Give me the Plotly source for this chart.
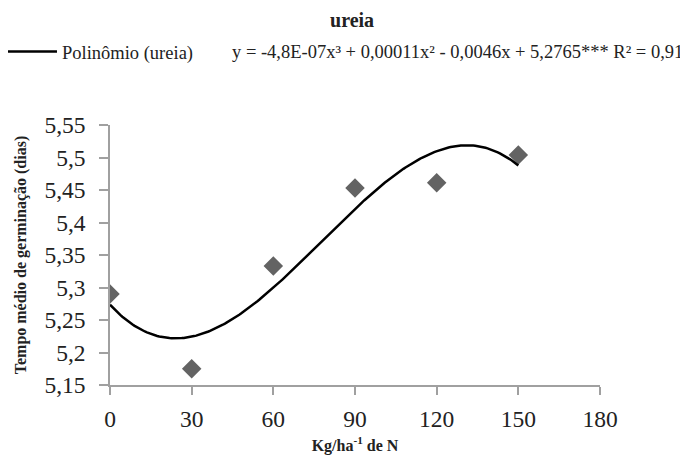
import numpy as np
import plotly.graph_objects as go

doses = [0, 30, 60, 90, 120, 150]
tempo = [5.29, 5.175, 5.333, 5.453, 5.461, 5.504]
y_ticks = [5.15, 5.2, 5.25, 5.3, 5.35, 5.4, 5.45, 5.5, 5.55]
y_ticktext = ["5,15", "5,2", "5,25", "5,3", "5,35", "5,4", "5,45", "5,5", "5,55"]
x_ticks = [0, 30, 60, 90, 120, 150, 180]

# cubic trendline fitted to the data (like the spreadsheet trendline)
coef = np.polyfit(doses, tempo, 3)
xf = np.linspace(min(doses), max(doses), 200)
yf = np.polyval(coef, xf)

FONT = "Liberation Serif, Times New Roman, DejaVu Serif, serif"
fig = go.Figure()
fig.add_trace(go.Scatter(x=doses, y=tempo, mode="markers", showlegend=False,
                         marker=dict(symbol="diamond", size=15, color="#636363")))
fig.add_trace(go.Scatter(x=xf, y=yf, mode="lines", name="Polinômio (ureia)",
                         line=dict(color="black", width=2.5)))

axis_common = dict(showgrid=False, zeroline=False, showline=True, linecolor="#a0a0a0",
                   linewidth=1.5, ticks="outside", tickcolor="#a0a0a0", tickwidth=1.5,
                   automargin=False,
                   tickfont=dict(family=FONT, size=23.5, color="#222"))
fig.update_xaxes(range=[0, 180], tickvals=x_ticks, ticklen=8, ticklabelstandoff=4,
                 title=dict(text="<b>Kg/ha<sup>-1</sup> de N</b>", font=dict(family=FONT, size=16, color="#222"), standoff=9),
                 **axis_common)
fig.update_yaxes(range=[5.15, 5.55], tickvals=y_ticks, ticktext=y_ticktext, ticklen=9, ticklabelstandoff=9,
                 title=dict(text="<b>Tempo médio de germinação (dias)</b>", font=dict(family=FONT, size=16, color="#222"), standoff=14),
                 **axis_common)

fig.update_layout(
    width=680, height=451,
    margin=dict(l=102, r=88, t=117, b=74, autoexpand=False),
    paper_bgcolor="white", plot_bgcolor="white",
    separators=",.",
    title=dict(text="<b>ureia</b>", x=0.506, xanchor="center", y=0.973, yanchor="middle",
               font=dict(family=FONT, size=20, color="#222")),
    legend=dict(x=-0.2286, xanchor="left", y=1.281, yanchor="middle", bgcolor="rgba(0,0,0,0)",
                font=dict(family=FONT, size=18.5, color="#222"), itemwidth=54),
    showlegend=True,
)
fig.add_annotation(xref="paper", yref="paper", x=1.1735, y=1.281, xanchor="right", yanchor="middle",
                   showarrow=False,
                   text="y = -4,8E-07x³ + 0,00011x² - 0,0046x + 5,2765*** R² = 0,91",
                   font=dict(family=FONT, size=18.5, color="#222"))
fig.write_html("out.html")
